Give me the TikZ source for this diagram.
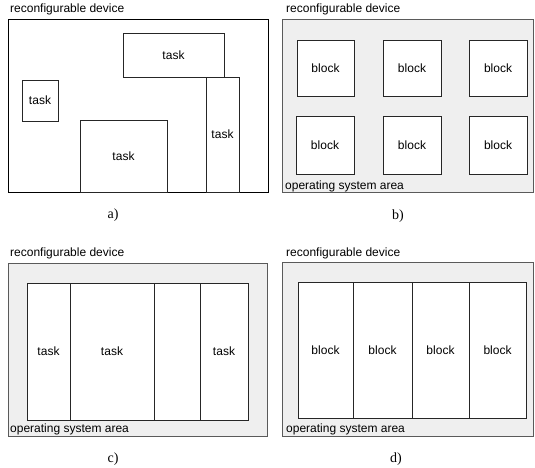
\documentclass[tikz,border=0pt]{standalone}
\usepackage{fontspec}
\setmainfont{Liberation Serif}
\setsansfont{Liberation Sans}
\definecolor{osfill}{HTML}{EFEFEF}
\definecolor{osline}{HTML}{5A5A5A}
\tikzset{
  lbl/.style={font=\sffamily\fontsize{12}{14}\selectfont, inner sep=0pt},
  captext/.style={font=\rmfamily\fontsize{14}{16}\selectfont, inner sep=0pt},
  device/.style={draw=black, line width=0.9pt, fill=white, inner sep=0pt},
  osdevice/.style={draw=osline, line width=0.9pt, fill=osfill, inner sep=0pt},
  box/.style={draw=black!85, line width=0.9pt, fill=white, inner sep=0pt,
    font=\sffamily\fontsize{12}{14}\selectfont},
}
\begin{document}
\begin{tikzpicture}[x=1pt,y=-1pt]
\useasboundingbox (0,0) rectangle (535,468);
% ---------- a) ----------
\node[device, minimum width=260pt, minimum height=173pt] (A) at (138,105.5) {};
\node[lbl, anchor=base west] (Alab) at (10,13) {reconfigurable device};
\node[box, minimum width=101pt, minimum height=44pt] (A1) at (173.5,55) {task};
\node[box, minimum width=36pt, minimum height=41pt] (A2) at (40,100.5) {task};
\node[box, minimum width=87pt, minimum height=72pt] (A3) at (123.5,156) {task};
\node[box, minimum width=33pt, minimum height=115pt] (A4) at (222.5,134.5) {task};
\node[captext] (Acap) at (113,215) {a)};
% ---------- b) ----------
\node[osdevice, minimum width=251pt, minimum height=173pt] (B) at (407.5,105.5) {};
\node[lbl, anchor=base west] (Blab) at (286,13) {reconfigurable device};
\node[lbl, anchor=base west] (Bos) at (285,189.5) {operating system area};
\node[box, minimum width=57pt, minimum height=56pt] (B1) at (325.5,68) {block};
\node[box, minimum width=58pt, minimum height=56pt] (B2) at (412,68) {block};
\node[box, minimum width=58pt, minimum height=56pt] (B3) at (498,68) {block};
\node[box, minimum width=58pt, minimum height=58pt] (B4) at (325,145) {block};
\node[box, minimum width=58pt, minimum height=58pt] (B5) at (412,145) {block};
\node[box, minimum width=58pt, minimum height=58pt] (B6) at (498,145) {block};
\node[captext] (Bcap) at (398,216) {b)};
% ---------- c) ----------
\node[osdevice, minimum width=259pt, minimum height=173pt] (C) at (137.5,349.5) {};
\node[lbl, anchor=base west] (Clab) at (10,256) {reconfigurable device};
\node[lbl, anchor=base west] (Cos) at (10,432) {operating system area};
\node[box, minimum width=43pt, minimum height=137pt] (C1) at (48.5,351.5) {task};
\node[box, minimum width=84pt, minimum height=137pt] (C2) at (112,351.5) {task};
\node[box, minimum width=46pt, minimum height=137pt] (C3) at (177,351.5) {};
\node[box, minimum width=48pt, minimum height=137pt] (C4) at (224,351.5) {task};
\node[captext] (Ccap) at (113,459) {c)};
% ---------- d) ----------
\node[osdevice, minimum width=251pt, minimum height=174pt] (D) at (407.5,349) {};
\node[lbl, anchor=base west] (Dlab) at (286,256) {reconfigurable device};
\node[lbl, anchor=base west] (Dos) at (286,432) {operating system area};
\node[box, minimum width=55pt, minimum height=136pt] (D1) at (325.5,350) {block};
\node[box, minimum width=59pt, minimum height=136pt] (D2) at (382.5,350) {block};
\node[box, minimum width=57pt, minimum height=136pt] (D3) at (440.5,350) {block};
\node[box, minimum width=57pt, minimum height=136pt] (D4) at (497.5,350) {block};
\node[captext] (Dcap) at (396,459) {d)};
\end{tikzpicture}
\end{document}
